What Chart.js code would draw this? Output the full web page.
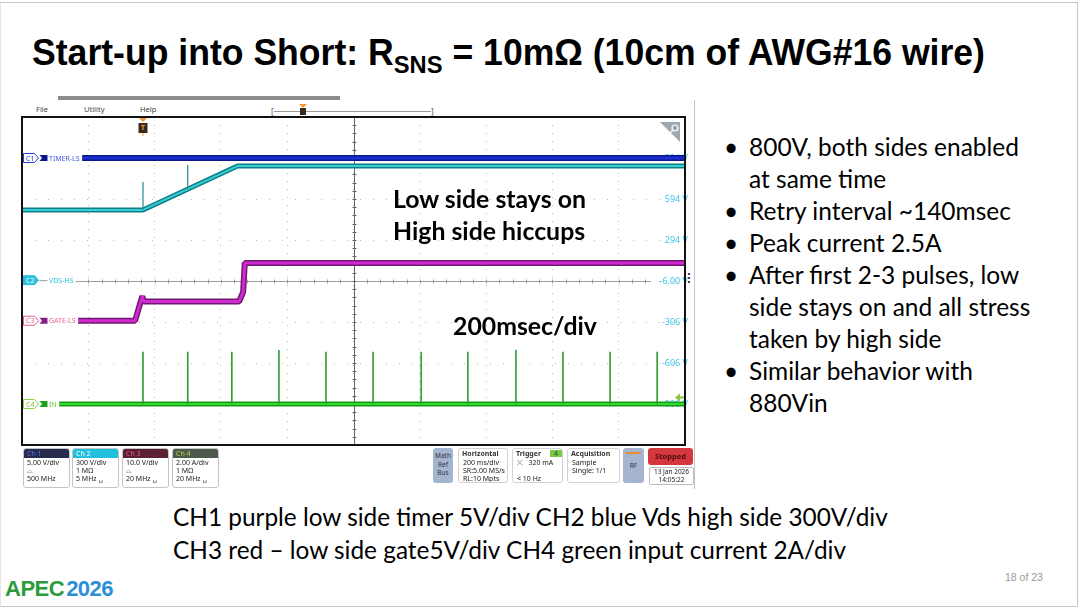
<!DOCTYPE html>
<html>
<head>
<meta charset="utf-8">
<title>Start-up into Short</title>
<script src="https://cdn.jsdelivr.net/npm/chart.js@4.4.1/dist/chart.umd.min.js"></script>
<style>
  html, body { margin: 0; padding: 0; background: #fff; }
  body { position: relative; width: 1080px; height: 609px; overflow: hidden; font-family: Lato, "Noto Sans", sans-serif; color: #000; }
  .abs { position: absolute; white-space: nowrap; }
  #frame { left: 0; top: 2px; width: 1076px; height: 603px; border: 1px solid #c6c6c6; border-left-color: #e6e6e6; }
  #title { left: 32px; top: 32px; line-height: 40px; font: bold 36px "Liberation Sans", Arial, sans-serif; transform-origin: 0 0; }
  #title sub { font-size: 24px; vertical-align: -8px; line-height: 0; }

  /* scope screen chrome */
  #topbar { left: 58px; top: 96px; width: 282px; height: 4px; background: #8c8c8c; }
  .menu { top: 104px; font: 7.5px "Noto Sans", sans-serif; color: #444; }
  #tline { left: 274px; top: 111px; width: 157px; height: 1px; background: #9a9a9a; }
  .brk { top: 106px; font: 8px "Noto Sans", sans-serif; color: #555; }
  #tpos { left: 299px; top: 104px; width: 8px; height: 12px; }
  #tpos .tri { width: 0; height: 0; border-left: 4px solid transparent; border-right: 4px solid transparent; border-top: 4px solid #f29a2e; }
  #tpos .box { margin-left: 1px; width: 6px; height: 7px; background: #3b2a1c; }
  #sidebar { left: 694px; top: 100px; width: 1px; height: 389px; background: #c4c4c4; }
  #kebab { left: 687px; top: 273px; font: bold 10px "DejaVu Sans", sans-serif; line-height: 4px; color: #222; }

  #scope { position: absolute; left: 18px; top: 113px; width: 671px; height: 336px; }

  /* status bar */
  .sb { position: absolute; font-family: "Noto Sans", "DejaVu Sans", sans-serif; font-size: 7px; line-height: 8px; color: #222; white-space: nowrap; }
  .chbox { top: 448px; width: 45px; height: 38px; border: 1px solid #c4c4c4; border-radius: 3px; background: #fff; overflow: hidden; }
  .chbox .hd { height: 9px; line-height: 9px; padding-left: 3px; font-size: 7px; }
  .chbox .bd { padding: 1px 0 0 3px; }
  .grp { top: 448px; width: 48px; height: 33px; border: 1.5px solid #d2d2d2; border-radius: 3px; background: #fff; overflow: hidden; }
  .grp .hd { font-weight: bold; font-size: 7px; padding: 1px 0 0 3px; line-height: 8px; color: #333; }
  .grp .bd { padding: 1px 0 0 4px; }
  .slate { top: 448px; height: 35px; background: #a5b5d0; border-radius: 3px; text-align: center; color: #334; font-size: 6.5px; }
  #stopped { left: 648px; top: 448px; width: 45px; height: 17px; background: #d4383e; border-radius: 3px; text-align: center; line-height: 17px; font-size: 7.5px; font-weight: bold; color: #4a0a0a; }
  #date { left: 649px; top: 467px; width: 43px; height: 16px; border: 1px solid #bdbdbd; border-radius: 2px; text-align: center; font-size: 6.5px; }
  #trig4 { display: inline-block; margin-left: 9px; width: 12px; height: 7px; line-height: 7px; background: #7ac943; text-align: center; font-weight: normal; color: #244; }

  /* slide text */
  #overlay1 { left: 393px; top: 182px; font-weight: bold; }
  #overlay1 div { height: 32px; line-height: 32px; }
  #overlay2 { left: 453px; top: 310px; height: 32px; line-height: 32px; font-weight: bold; }
  #bullets { left: 749px; top: 131px; }
  #bullets .ln { position: relative; height: 32px; line-height: 32px; }
  #bullets .dot { position: absolute; left: -25px; }
  #caption { left: 173px; top: 500px; }
  #caption div { height: 33px; line-height: 33px; }
  #logo { left: 5px; top: 577px; font: bold 22px "Liberation Sans", Arial, sans-serif; letter-spacing: -0.5px; line-height: 24px; }
  #logo .a { color: #2c9b3c; }
  #logo .b { color: #2b8fd4; margin-left: 2px; }
  #pageno { left: 1005px; top: 571px; font: 10.5px "Liberation Sans Narrow", "Liberation Sans", sans-serif; color: #9a9a9a; }
</style>
</head>
<body>
<div id="frame" class="abs"></div>
<div id="title" class="abs">Start-up into Short: R<sub>SNS</sub> = 10mΩ (10cm of AWG#16 wire)</div>

<div id="topbar" class="abs"></div>
<div class="abs menu" style="left:36px">File</div>
<div class="abs menu" style="left:84px">Utility</div>
<div class="abs menu" style="left:140px">Help</div>
<div class="abs brk" style="left:271px">[</div>
<div id="tline" class="abs"></div>
<div class="abs brk" style="left:431px">]</div>
<div id="tpos" class="abs"><div class="tri"></div><div class="box"></div></div>
<div id="sidebar" class="abs"></div>
<div id="kebab" class="abs">·<br>·<br>·</div>

<div id="scope"><canvas id="scopeChart"></canvas></div>

<div id="overlay1" class="abs"><div><span id="fitO">Low side stays on</span></div><div>High side hiccups</div></div>
<div id="overlay2" class="abs"><span id="fitO2">200msec/div</span></div>

<!-- status bar -->
<div class="sb chbox" style="left:23px"><div class="hd" style="background:#272b50;color:#4d6fe6">Ch 1</div><div class="bd">5.00 V/div<br>⌓<br>500 MHz</div></div>
<div class="sb chbox" style="left:72px"><div class="hd" style="background:#21c1dd;color:#fff">Ch 2</div><div class="bd">300 V/div<br>1 MΩ<br>5 MHz ␣</div></div>
<div class="sb chbox" style="left:122px"><div class="hd" style="background:#5b2031;color:#e0608e">Ch 3</div><div class="bd">10.0 V/div<br>⌓<br>20 MHz ␣</div></div>
<div class="sb chbox" style="left:172px"><div class="hd" style="background:#4c5b4c;color:#b5d84a">Ch 4</div><div class="bd">2.00 A/div<br>1 MΩ<br>20 MHz ␣</div></div>

<div class="sb slate" style="left:433px;width:20px;padding-top:4px;height:31px;line-height:8.5px">Math<br>Ref<br>Bus</div>
<div class="sb grp" style="left:458px"><div class="hd">Horizontal</div><div class="bd">200 ms/div<br>SR:5.00 MS/s<br>RL:10 Mpts</div></div>
<div class="sb grp" style="left:512px;width:49px"><div class="hd">Trigger<span id="trig4">4</span></div><div class="bd">⤫ &nbsp;&nbsp;320 mA<br>&nbsp;<br>&lt; 10 Hz</div></div>
<div class="sb grp" style="left:567px;width:51px"><div class="hd">Acquisition</div><div class="bd">Sample<br>Single: 1/1</div></div>
<div class="sb slate" style="left:623px;width:21px;line-height:35px;position:absolute"><div style="position:absolute;left:3px;top:4px;width:15px;height:1.5px;background:#f08a30"></div>RF</div>
<div class="sb" id="stopped">Stopped</div>
<div class="sb" id="date">13 Jan 2026<br>14:05:22</div>

<div id="bullets" class="abs">
  <div class="ln"><span class="dot">•</span><span id="fitB">800V, both sides enabled</span></div>
  <div class="ln">at same time</div>
  <div class="ln"><span class="dot">•</span>Retry interval ~140msec</div>
  <div class="ln"><span class="dot">•</span>Peak current 2.5A</div>
  <div class="ln"><span class="dot">•</span>After first 2-3 pulses, low</div>
  <div class="ln">side stays on and all stress</div>
  <div class="ln">taken by high side</div>
  <div class="ln"><span class="dot">•</span>Similar behavior with</div>
  <div class="ln">880Vin</div>
</div>

<div id="caption" class="abs">
  <div><span id="fitC">CH1 purple low side timer 5V/div CH2 blue Vds high side 300V/div</span></div>
  <div>CH3 red – low side gate5V/div CH4 green input current 2A/div</div>
</div>

<div id="logo" class="abs"><span class="a">APEC</span><span class="b">2026</span></div>
<div id="pageno" class="abs">18 of 23</div>

<script>
// ---- horizontal: 200 ms/div, 10 divisions on screen (ms from left edge)
const TIME_GRID_MS = [0, 200, 400, 600, 800, 1000, 1200, 1400, 1600, 1800, 2000];
const TRIGGER_MS = 365;
const C4_TRIG_LEVEL_A = 0.32;

// ---- CH2 readout on the right edge (300 V/div, -6 V at centre)
const C2_TICKS_V = [-1206, -906, -606, -306, -6, 294, 594, 894, 1194];
const C2_TICK_LABELS = ['', '-906 V', '-606 V', '-306 V', '-6.00 V', '294 V', '594 V', '894 V', ''];

// ---- CH1 TIMER-LS (V)
const ch1TimeMs = [0, 2000];
const ch1Volts = [0, 0];

// ---- CH2 VDS-HS (V)
const ch2TimeMs = [0, 365, 650, 2000];
const ch2Volts = [514, 514, 835, 835];
const ch2GlitchMs = [365, 500];
const ch2GlitchBaseV = [514, 667];
const ch2GlitchTopV = [718, 843];

// ---- CH3 GATE-LS (V)
const ch3TimeMs = [0, 341, 363, 367, 655, 667, 672, 2000];
const ch3Volts = [0, 0, 6.0, 4.7, 4.7, 7.0, 14.1, 14.1];

// ---- CH4 IN (A), hiccup pulses
const ch4TimeMs = [0, 2000];
const ch4Amps = [0, 0];
const ch4PulseMs = [365, 500, 633, 775, 917, 1059, 1204, 1345, 1490, 1632, 1774, 1916];
const ch4PulsePeakA = [2.55, 2.55, 2.55, 2.63, 2.55, 2.55, 2.55, 2.55, 2.63, 2.55, 2.55, 2.55];

// scope vertical setup: units/div and ground position in divisions from centre
const CH = {
  c1: { perDiv: 5,   pos: 3,     tag: 'C1', name: 'TIMER-LS', tagFill: '#fff',    tagLine: '#2a3fd8', tagText: '#2a3fd8', nameColor: '#3d5be8', lead: '#0b168a' },
  c2: { perDiv: 300, pos: 0.02,  tag: 'C2', name: 'VDS-HS',   tagFill: '#2bbfe0', tagLine: '#2bbfe0', tagText: '#fff',    nameColor: '#2bbfe0', lead: null },
  c3: { perDiv: 10,  pos: -0.97, tag: 'C3', name: 'GATE-LS',  tagFill: '#fff',    tagLine: '#e0609a', tagText: '#e0609a', nameColor: '#e8609a', lead: '#8a1c8a' },
  c4: { perDiv: 2,   pos: -3,    tag: 'C4', name: 'IN',       tagFill: '#fff',    tagLine: '#8fd14f', tagText: '#7cc23c', nameColor: '#6cc23c', lead: '#1ea01e' },
};

function range(ch) {
  return { min: (-4 - ch.pos) * ch.perDiv, max: (4 - ch.pos) * ch.perDiv };
}

function xy(ts, vs) {
  return ts.map(function (t, i) { return { x: t, y: vs[i] }; });
}

function spikes(ts, base, top) {
  const pts = [];
  ts.forEach(function (t, i) {
    pts.push({ x: t, y: base[i] }, { x: t, y: top[i] }, { x: t, y: null });
  });
  return pts;
}

function band(data, axis, dark, bright, w, order) {
  return [
    { data: data, yAxisID: axis, borderColor: dark, borderWidth: w, order: order + 0.5 },
    { data: data, yAxisID: axis, borderColor: bright, borderWidth: w - 3, order: order },
  ];
}

function drawBadge(ctx, a, y, ch) {
  const x0 = a.left + 1.5;
  ctx.font = '7px "Noto Sans", sans-serif';
  const tw = ctx.measureText(ch.name).width;
  ctx.fillStyle = '#fff';
  ctx.fillRect(a.left + 1, y - 5, x0 + 27 + tw - a.left, 10);

  ctx.beginPath();
  ctx.moveTo(x0, y - 4.5);
  ctx.lineTo(x0 + 11, y - 4.5);
  ctx.lineTo(x0 + 15, y);
  ctx.lineTo(x0 + 11, y + 4.5);
  ctx.lineTo(x0, y + 4.5);
  ctx.closePath();
  ctx.fillStyle = ch.tagFill;
  ctx.fill();
  ctx.strokeStyle = ch.tagLine;
  ctx.lineWidth = 1;
  ctx.stroke();

  ctx.textBaseline = 'middle';
  ctx.textAlign = 'left';
  ctx.fillStyle = ch.tagText;
  ctx.fillText(ch.tag, x0 + 2.5, y + 0.5);

  if (ch.lead) {
    ctx.fillStyle = ch.lead;
    ctx.beginPath();
    ctx.moveTo(x0 + 16, y - 3);
    ctx.lineTo(x0 + 24, y - 3);
    ctx.lineTo(x0 + 24, y + 3);
    ctx.lineTo(x0 + 16, y + 3);
    ctx.lineTo(x0 + 18.5, y);
    ctx.closePath();
    ctx.fill();
  } else {
    ctx.strokeStyle = '#9a9a9a';
    ctx.beginPath();
    ctx.moveTo(x0 + 16, y + 0.5);
    ctx.lineTo(x0 + 24, y + 0.5);
    ctx.stroke();
  }
  ctx.fillStyle = ch.nameColor;
  ctx.fillText(ch.name, x0 + 25.5, y + 0.5);
}

const scopeScreen = {
  id: 'scopeScreen',
  beforeDatasetsDraw(chart) {
    const { ctx, chartArea: a, scales } = chart;
    const cx = Math.round(scales.x.getPixelForValue(TIME_GRID_MS[5])) + 0.5;
    const cy = Math.round(scales.y.getPixelForValue(C2_TICKS_V[4])) + 0.5;
    const dx = (a.right - a.left) / 50;
    const dy = (a.bottom - a.top) / 40;
    const stopX = a.right - 34;
    ctx.save();
    ctx.lineWidth = 1;
    ctx.strokeStyle = '#9c9c9c';
    ctx.beginPath();
    ctx.moveTo(a.left, cy);
    ctx.lineTo(stopX, cy);
    for (let i = 1; i < 50; i++) {
      const x = Math.round(a.left + i * dx) + 0.5;
      if (x > stopX) break;
      ctx.moveTo(x, cy - 2);
      ctx.lineTo(x, cy + 2);
    }
    ctx.stroke();
    ctx.strokeStyle = '#666';
    ctx.beginPath();
    ctx.moveTo(cx, a.top);
    ctx.lineTo(cx, a.bottom);
    for (let j = 1; j < 40; j++) {
      const y = Math.round(a.top + j * dy) + 0.5;
      ctx.moveTo(cx - 2, y);
      ctx.lineTo(cx + 2, y);
    }
    ctx.stroke();
    ctx.restore();
  },
  afterDatasetsDraw(chart) {
    const { ctx, chartArea: a, scales } = chart;
    ctx.save();

    drawBadge(ctx, a, scales.yC1.getPixelForValue(0), CH.c1);
    drawBadge(ctx, a, scales.y.getPixelForValue(0), CH.c2);
    drawBadge(ctx, a, scales.yC3.getPixelForValue(0), CH.c3);
    drawBadge(ctx, a, scales.yC4.getPixelForValue(0), CH.c4);

    // trigger position flag
    const tx = Math.round(scales.x.getPixelForValue(TRIGGER_MS));
    ctx.fillStyle = '#f29a2e';
    ctx.beginPath();
    ctx.moveTo(tx - 4, a.top + 1);
    ctx.lineTo(tx + 4, a.top + 1);
    ctx.lineTo(tx, a.top + 5);
    ctx.fill();
    ctx.fillStyle = '#3b2a1c';
    ctx.fillRect(tx - 4.5, a.top + 6, 9, 10);
    ctx.fillStyle = '#f29a2e';
    ctx.font = 'bold 7px "Noto Sans", sans-serif';
    ctx.textAlign = 'center';
    ctx.textBaseline = 'middle';
    ctx.fillText('T', tx, a.top + 11);
    ctx.fillRect(tx - 0.5, a.top + 16, 1, 3);

    // CH4 trigger level arrow
    const ly = scales.yC4.getPixelForValue(C4_TRIG_LEVEL_A);
    ctx.fillStyle = '#8cc63f';
    ctx.beginPath();
    ctx.moveTo(a.right - 10, ly);
    ctx.lineTo(a.right - 5, ly - 4);
    ctx.lineTo(a.right - 5, ly + 4);
    ctx.fill();
    ctx.fillRect(a.right - 6, ly - 1, 5, 2);

    // zoom corner
    ctx.fillStyle = '#9ea7b1';
    ctx.beginPath();
    ctx.moveTo(a.right - 25, a.top + 5);
    ctx.lineTo(a.right - 5, a.top + 5);
    ctx.lineTo(a.right - 5, a.top + 25);
    ctx.fill();
    ctx.strokeStyle = '#fff';
    ctx.lineWidth = 1.2;
    ctx.beginPath();
    ctx.arc(a.right - 10, a.top + 11, 3, 0, Math.PI * 2);
    ctx.moveTo(a.right - 12.5, a.top + 13.5);
    ctx.lineTo(a.right - 16, a.top + 17);
    ctx.stroke();

    // screen border
    ctx.strokeStyle = '#111';
    ctx.lineWidth = 2;
    ctx.strokeRect(a.left, a.top, a.right - a.left, a.bottom - a.top);
    ctx.restore();
  }
};

const datasets = [].concat(
  [{ data: spikes(ch4PulseMs, ch4PulseMs.map(function () { return 0; }), ch4PulsePeakA), yAxisID: 'yC4', borderColor: '#2f9a2f', borderWidth: 1.6, order: 0 }],
  [{ data: spikes(ch2GlitchMs, ch2GlitchBaseV, ch2GlitchTopV), yAxisID: 'y', borderColor: '#2a8a8e', borderWidth: 1.2, order: 1 }],
  band(xy(ch1TimeMs, ch1Volts), 'yC1', '#0b168a', '#1b2fd0', 6, 2),
  band(xy(ch2TimeMs, ch2Volts), 'y', '#0f7e86', '#35d0d6', 5, 4),
  band(xy(ch3TimeMs, ch3Volts), 'yC3', '#6e1870', '#d22ad2', 6, 6),
  band(xy(ch4TimeMs, ch4Amps), 'yC4', '#169a16', '#2edc2e', 5, 8)
);
datasets.forEach(function (d) {
  d.pointRadius = 0;
  d.tension = 0;
  d.fill = false;
  d.spanGaps = false;
  d.borderJoinStyle = 'bevel';
});

const dotted = { color: '#b8b8b8', lineWidth: 1, drawTicks: false };

new Chart(document.getElementById('scopeChart'), {
  type: 'line',
  data: { datasets: datasets },
  options: {
    responsive: true,
    maintainAspectRatio: false,
    animation: false,
    events: [],
    layout: { padding: 4 },
    plugins: { legend: { display: false }, tooltip: { enabled: false } },
    scales: {
      x: {
        type: 'linear',
        min: TIME_GRID_MS[0],
        max: TIME_GRID_MS[TIME_GRID_MS.length - 1],
        afterBuildTicks: function (s) { s.ticks = TIME_GRID_MS.map(function (v) { return { value: v }; }); },
        ticks: { display: false },
        grid: dotted,
        border: { display: false, dash: [1, 7] },
      },
      y: {
        position: 'right',
        min: range(CH.c2).min,
        max: range(CH.c2).max,
        afterBuildTicks: function (s) { s.ticks = C2_TICKS_V.map(function (v) { return { value: v }; }); },
        afterFit: function (s) { s.width = 0; s.paddingTop = 0; s.paddingBottom = 0; },
        ticks: {
          mirror: true,
          padding: 3,
          color: '#3cc6e6',
          font: { size: 9, family: '"Noto Sans", sans-serif' },
          callback: function (v, i) { return C2_TICK_LABELS[i]; },
        },
        grid: dotted,
        border: { display: false, dash: [1, 12] },
      },
      yC1: { display: false, min: range(CH.c1).min, max: range(CH.c1).max },
      yC3: { display: false, min: range(CH.c3).min, max: range(CH.c3).max },
      yC4: { display: false, min: range(CH.c4).min, max: range(CH.c4).max },
    },
  },
  plugins: [scopeScreen],
});

// size slide text so line lengths match the slide
function fitGroup(group, probe, target) {
  const w = probe.getBoundingClientRect().width;
  const fs = parseFloat(getComputedStyle(group).fontSize);
  group.style.fontSize = (fs * target / w).toFixed(2) + 'px';
}
document.getElementById('bullets').style.fontSize = '23px';
document.getElementById('caption').style.fontSize = '23px';
document.getElementById('overlay1').style.fontSize = '22px';
document.getElementById('overlay2').style.fontSize = '22px';
fitGroup(document.getElementById('bullets'), document.getElementById('fitB'), 270);
fitGroup(document.getElementById('caption'), document.getElementById('fitC'), 715);
fitGroup(document.getElementById('overlay1'), document.getElementById('fitO'), 193);
fitGroup(document.getElementById('overlay2'), document.getElementById('fitO2'), 144);

const title = document.getElementById('title');
title.style.transform = 'scaleX(' + (953 / title.getBoundingClientRect().width).toFixed(4) + ')';
</script>
</body>
</html>
